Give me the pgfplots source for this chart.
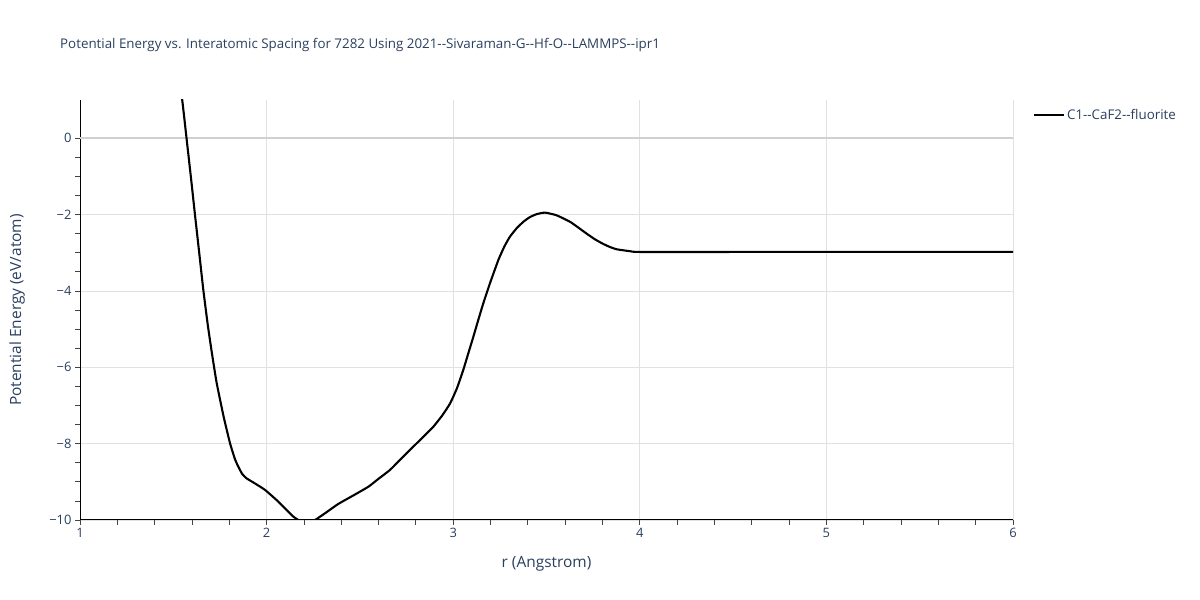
\documentclass[border=0pt]{standalone}
\usepackage{pgfplots}
\pgfplotsset{compat=1.18}
\usepackage{fontspec}
\setmainfont{Open Sans}[Ligatures=TeXOff]
\definecolor{txt}{HTML}{2A3F5F}
\definecolor{gridc}{HTML}{E1E1E1}
\definecolor{zeroc}{HTML}{D0D0D0}
\definecolor{tickc}{HTML}{444444}
\begin{document}
\begin{tikzpicture}[x=1bp,y=1bp]
\useasboundingbox (0,0) rectangle (1200,600);
\node[anchor=base west, text=txt, font=\fontsize{13.4}{15}\selectfont, inner sep=0] at (60,551) {Potential Energy vs. Interatomic Spacing for 7282 Using 2021--Sivaraman-G--Hf-O--LAMMPS--ipr1};
\begin{axis}[
  at={(80bp,80bp)}, anchor=south west,
  scale only axis, width=933bp, height=420bp,
  xmin=1, xmax=6, ymin=-10, ymax=1,
  xtick={1,2,3,4,5,6}, ytick={-10,-8,-6,-4,-2,0},
  yticklabels={−10,−8,−6,−4,−2,0},
  minor x tick num=4, minor y tick num=3,
  axis x line*=bottom, axis y line*=left,
  axis line style={black, line width=1pt, -},
  tick align=outside,
  major tick length=5bp, minor tick length=5bp,
  every tick/.style={tickc, line width=0.8pt},
  grid=major,
  major grid style={gridc, line width=0.8pt},
  minor grid style={draw=none},
  tick label style={text=txt, font=\fontsize{13}{15}\selectfont},
  /pgf/number format/assume math mode=true,
  xlabel={r (Angstrom)}, ylabel={Potential Energy (eV/atom)},
  label style={text=txt, font=\fontsize{15.5}{17}\selectfont},
  xlabel style={at={(axis description cs:0.5,0)}, anchor=base, yshift=-48bp},
  ylabel style={at={(axis description cs:-0.0675,0.5)}, anchor=center},
  clip=true,
  legend style={at={(1.018,0.965)}, anchor=west, draw=none, fill=none, font=\fontsize{13.4}{15}\selectfont, text=txt, legend cell align=left},
  legend image code/.code={\draw[#1] (0bp,0bp) -- (30bp,0bp);},
]
\addplot[zeroc, line width=1.8pt, forget plot] coordinates {(1,0) (6,0)};
\addplot[black, line width=2.1pt, smooth, tension=0.3] coordinates {
(1.53,1.5) (1.548,0.99) (1.572,-0.05) (1.595,-1.05) (1.616,-2.0) (1.64,-3.05) (1.661,-3.98) (1.685,-4.9) (1.706,-5.6) (1.732,-6.4)
(1.77,-7.3) (1.804,-7.99) (1.83,-8.4) (1.848,-8.6) (1.87,-8.8) (1.893,-8.91) (1.94,-9.05) (1.991,-9.21)
(2.054,-9.48) (2.10,-9.7) (2.143,-9.91) (2.17,-10.0) (2.2,-10.06) (2.23,-10.06) (2.26,-10.0) (2.32,-9.8) (2.384,-9.58)
(2.46,-9.37) (2.545,-9.13) (2.60,-8.92) (2.661,-8.69) (2.72,-8.4) (2.786,-8.08) (2.84,-7.82) (2.893,-7.56) (2.94,-7.27) (2.983,-6.95)
(3.02,-6.55) (3.054,-6.07) (3.08,-5.65) (3.108,-5.2) (3.135,-4.75) (3.161,-4.33) (3.197,-3.8) (3.242,-3.19) (3.275,-2.83) (3.304,-2.58)
(3.34,-2.36) (3.376,-2.19) (3.41,-2.07) (3.447,-1.99) (3.492,-1.95) (3.554,-2.02) (3.626,-2.19) (3.67,-2.34) (3.715,-2.5) (3.76,-2.65) (3.804,-2.77)
(3.84,-2.85) (3.876,-2.91) (3.947,-2.96) (4.0,-2.98) (4.5,-2.98) (5.0,-2.98) (5.5,-2.98) (6.0,-2.98)
};
\addlegendentry{C1--CaF2--fluorite}
\end{axis}
\end{tikzpicture}
\end{document}
